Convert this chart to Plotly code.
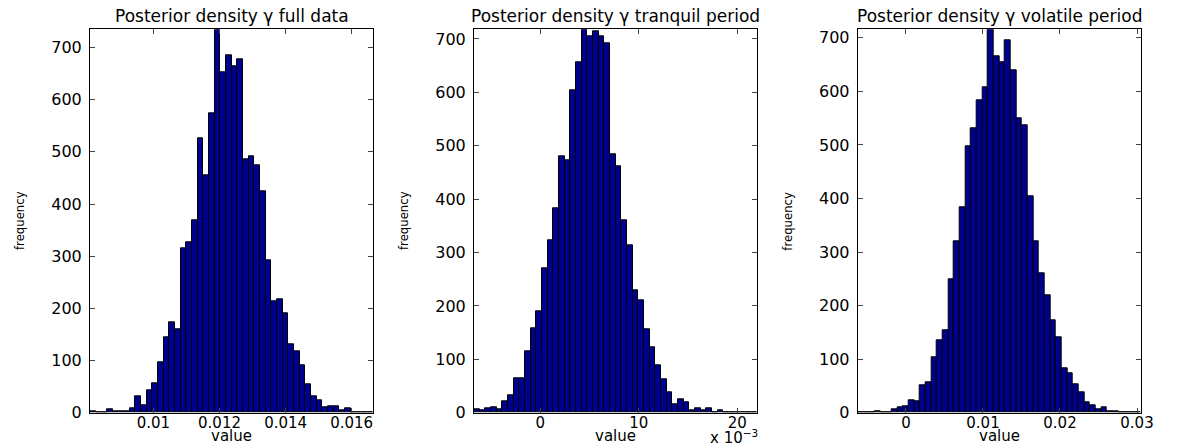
import numpy as np
import plotly.graph_objects as go

# ---------------- data ----------------
titles = ["Posterior density \u03b3 full data",
          "Posterior density \u03b3 tranquil period",
          "Posterior density \u03b3 volatile period"]

# histogram counts (50 bins each)
counts_full = [3, 0, 0, 6, 3, 3, 3, 8, 32, 15,
               43, 56, 97, 144, 173, 159, 315, 326, 368, 527,
               456, 574, 735, 652, 686, 665, 678, 485, 491, 475,
               425, 293, 214, 218, 191, 132, 118, 90, 55, 31,
               24, 10, 13, 12, 5, 9, 1, 0, 0, 1]
counts_tranquil = [6, 4, 8, 10, 7, 22, 32, 64, 64, 115,
                   158, 190, 270, 323, 382, 481, 473, 604, 657, 718,
                   705, 714, 705, 692, 484, 462, 361, 314, 230, 211,
                   157, 122, 89, 63, 39, 16, 25, 19, 5, 9,
                   5, 9, 1, 5, 1, 0, 0, 1, 0, 1]
counts_volatile = [1, 0, 0, 3, 1, 1, 7, 10, 12, 24,
                   22, 52, 57, 103, 136, 153, 250, 320, 384, 498,
                   531, 583, 608, 716, 665, 654, 695, 639, 550, 536,
                   404, 321, 260, 220, 173, 140, 83, 74, 53, 39,
                   19, 14, 7, 11, 3, 2, 1, 1, 0, 1]

# sample range (min, max) of each posterior draw set
range_full = [0.00808, 0.016654]
range_tranquil = [-0.006735, 0.02204]
range_volatile = [-0.00627, 0.03052]

xtick_vals_full = [0.01, 0.012, 0.014, 0.016]
xtick_text_full = ["0.01", "0.012", "0.014", "0.016"]
xtick_vals_tranquil = [0.0, 0.01, 0.02]
xtick_text_tranquil = ["0", "10", "20"]
xtick_vals_volatile = [0.0, 0.01, 0.02, 0.03]
xtick_text_volatile = ["0", "0.01", "0.02", "0.03"]
ytick_vals = [0, 100, 200, 300, 400, 500, 600, 700]

# ---------------- layout ----------------
W, H = 1190, 446
panel_px = [(90, 373.3), (474, 757.3), (857.7, 1141)]
ytop_px, ybot_px = 29.3, 412.7
ydom = [(H - ybot_px) / H, (H - ytop_px) / H]

FONT = "DejaVu Sans"
NARROW = "Liberation Sans Narrow, DejaVu Sans Condensed, Liberation Sans"
BAR_COLOR = "rgb(0,0,143)"

panels = [
    (counts_full, range_full, xtick_vals_full, xtick_text_full),
    (counts_tranquil, range_tranquil, xtick_vals_tranquil, xtick_text_tranquil),
    (counts_volatile, range_volatile, xtick_vals_volatile, xtick_text_volatile),
]

fig = go.Figure()
annotations = []
layout_axes = {}
for i, (cnts, rng, tv, tt) in enumerate(panels):
    n = len(cnts)
    edges = np.linspace(rng[0], rng[1], n + 1)
    centers = 0.5 * (edges[:-1] + edges[1:])
    width = edges[1] - edges[0]
    xa = "x" if i == 0 else f"x{i+1}"
    ya = "y" if i == 0 else f"y{i+1}"
    fig.add_trace(go.Bar(
        x=centers, y=cnts, width=width,
        marker=dict(color=BAR_COLOR, line=dict(color="black", width=1)),
        xaxis=xa, yaxis=ya, showlegend=False, hoverinfo="x+y",
    ))
    x0, x1 = panel_px[i]
    axis_common = dict(
        showline=True, linecolor="black", linewidth=1, mirror="ticks",
        ticks="inside", ticklen=5, tickcolor="#444", tickwidth=1,
        showgrid=False, zeroline=False, automargin=False,
    )
    layout_axes["xaxis" if i == 0 else f"xaxis{i+1}"] = dict(
        domain=[x0 / W, x1 / W], anchor=ya, range=list(rng),
        tickvals=tv, ticktext=tt, ticklabelstandoff=-4,
        tickfont=dict(family=FONT, size=15, color="black"), **axis_common)
    layout_axes["yaxis" if i == 0 else f"yaxis{i+1}"] = dict(
        domain=ydom, anchor=xa, range=[0, max(cnts)],
        tickvals=ytick_vals, ticklabelstandoff=4,
        tickfont=dict(family=FONT, size=16, color="black"), **axis_common)
    cx = (x0 + x1) / 2 / W
    annotations.append(dict(text=titles[i], x=cx, y=(H - 16) / H, xref="paper", yref="paper",
                            xanchor="center", yanchor="middle", showarrow=False,
                            font=dict(family=FONT, size=17, color="black")))
    annotations.append(dict(text="value", x=cx, y=(H - 435.5) / H, xref="paper", yref="paper",
                            xanchor="center", yanchor="middle", showarrow=False,
                            font=dict(family=FONT, size=15, color="black")))
    annotations.append(dict(text="frequency", x=(x0 - 71) / W, y=(H - 221) / H,
                            xref="paper", yref="paper", textangle=-90,
                            xanchor="center", yanchor="middle", showarrow=False,
                            font=dict(family=NARROW, size=13, color="black")))

annotations.append(dict(text="x 10<sup>\u22123</sup>", x=760 / W, y=(H - 437) / H,
                        xref="paper", yref="paper", xanchor="right", yanchor="middle",
                        showarrow=False, font=dict(family=FONT, size=15, color="black")))

fig.update_layout(
    width=W, height=H, margin=dict(l=0, r=0, t=0, b=0, pad=0, autoexpand=False),
    paper_bgcolor="white", plot_bgcolor="white",
    bargap=0, annotations=annotations, **layout_axes,
)

fig.write_html("out.html")
